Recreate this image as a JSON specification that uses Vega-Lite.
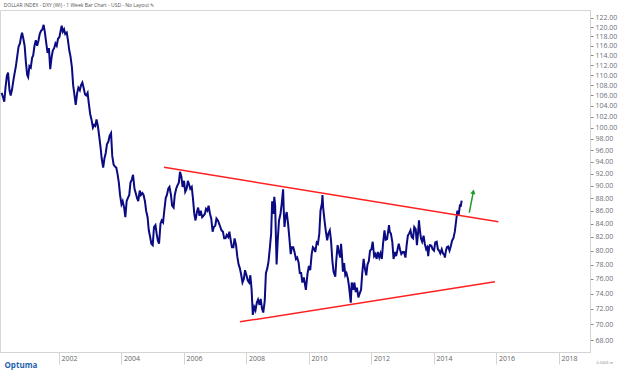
{
  "$schema": "https://vega.github.io/schema/vega-lite/v6.json",
  "autosize": {"type": "none"},
  "padding": {"left": 0, "top": 10, "right": 34, "bottom": 20},
  "width": 590,
  "height": 342,
  "background": "white",
  "title": {"text": "DOLLAR INDEX - DXY (WI) - 1 Week Bar Chart - USD - No Layout  ✎", "anchor": "start", "fontSize": 5, "color": "#555555", "font": "Open Sans", "fontWeight": "normal", "offset": 2, "dx": 6},
  "config": {"view": {"stroke": "#d6d6d6", "strokeWidth": 1}},
  "datasets": {
    "dxy": [
      {"date":"2000-03-01","v":106.5},{"date":"2000-03-15","v":105.8},{"date":"2000-04-01","v":104.8},{"date":"2000-04-15","v":107.5},
      {"date":"2000-05-01","v":109.8},{"date":"2000-05-15","v":110.5},{"date":"2000-06-01","v":107.0},{"date":"2000-06-15","v":106.0},
      {"date":"2000-07-01","v":107.2},{"date":"2000-07-15","v":108.8},{"date":"2000-08-01","v":110.5},{"date":"2000-08-15","v":111.8},
      {"date":"2000-09-01","v":114.0},{"date":"2000-09-15","v":115.8},{"date":"2000-10-01","v":116.5},{"date":"2000-10-15","v":118.0},
      {"date":"2000-10-26","v":118.8},{"date":"2000-11-10","v":117.5},{"date":"2000-11-25","v":116.0},{"date":"2000-12-10","v":112.5},
      {"date":"2000-12-25","v":110.0},
      {"date":"2001-01-05","v":109.6},{"date":"2001-01-20","v":111.8},{"date":"2001-02-05","v":111.5},{"date":"2001-02-20","v":113.5},
      {"date":"2001-03-05","v":114.0},{"date":"2001-03-20","v":116.0},{"date":"2001-04-05","v":117.2},{"date":"2001-04-20","v":116.0},
      {"date":"2001-05-05","v":117.0},{"date":"2001-05-20","v":118.5},{"date":"2001-06-05","v":119.2},{"date":"2001-06-20","v":119.5},
      {"date":"2001-07-05","v":120.5},{"date":"2001-07-20","v":118.8},{"date":"2001-08-05","v":116.5},{"date":"2001-08-20","v":114.5},
      {"date":"2001-09-05","v":115.5},{"date":"2001-09-20","v":111.2},{"date":"2001-10-05","v":113.5},{"date":"2001-10-20","v":115.0},
      {"date":"2001-11-05","v":115.5},{"date":"2001-11-20","v":116.5},{"date":"2001-12-05","v":116.0},{"date":"2001-12-20","v":117.5},
      {"date":"2002-01-05","v":117.8},{"date":"2002-01-20","v":119.2},{"date":"2002-02-01","v":120.3},{"date":"2002-02-15","v":119.0},
      {"date":"2002-03-01","v":119.5},{"date":"2002-03-15","v":118.5},{"date":"2002-04-01","v":118.8},{"date":"2002-04-15","v":117.2},
      {"date":"2002-05-01","v":115.0},{"date":"2002-05-15","v":113.8},{"date":"2002-06-01","v":111.5},{"date":"2002-06-15","v":108.0},
      {"date":"2002-07-01","v":106.0},{"date":"2002-07-15","v":104.2},{"date":"2002-08-01","v":106.5},{"date":"2002-08-15","v":107.5},
      {"date":"2002-09-01","v":107.0},{"date":"2002-09-15","v":108.0},{"date":"2002-10-01","v":108.5},{"date":"2002-10-15","v":107.5},
      {"date":"2002-11-01","v":106.2},{"date":"2002-11-15","v":106.0},{"date":"2002-12-01","v":106.5},{"date":"2002-12-15","v":104.5},
      {"date":"2002-12-31","v":102.5},
      {"date":"2003-01-15","v":101.5},{"date":"2003-02-01","v":100.0},{"date":"2003-02-15","v":100.5},{"date":"2003-03-01","v":100.3},
      {"date":"2003-03-15","v":101.5},{"date":"2003-04-01","v":100.2},{"date":"2003-04-15","v":98.5},{"date":"2003-05-01","v":96.5},
      {"date":"2003-05-15","v":94.5},{"date":"2003-06-01","v":93.0},{"date":"2003-06-15","v":94.5},{"date":"2003-07-01","v":95.5},
      {"date":"2003-07-15","v":97.0},{"date":"2003-08-01","v":97.5},{"date":"2003-08-15","v":98.5},{"date":"2003-09-01","v":99.0},
      {"date":"2003-09-15","v":95.0},{"date":"2003-10-01","v":93.5},{"date":"2003-10-15","v":93.2},{"date":"2003-11-01","v":93.0},
      {"date":"2003-11-15","v":92.0},{"date":"2003-12-01","v":90.5},{"date":"2003-12-15","v":88.5},
      {"date":"2004-01-01","v":87.0},{"date":"2004-01-15","v":87.5},{"date":"2004-02-01","v":86.5},{"date":"2004-02-15","v":85.0},
      {"date":"2004-03-01","v":87.5},{"date":"2004-03-15","v":88.0},{"date":"2004-04-01","v":88.5},{"date":"2004-04-15","v":90.5},
      {"date":"2004-05-01","v":91.0},{"date":"2004-05-15","v":91.8},{"date":"2004-06-01","v":89.5},{"date":"2004-06-15","v":88.8},
      {"date":"2004-07-01","v":88.0},{"date":"2004-07-15","v":87.5},{"date":"2004-08-01","v":89.2},{"date":"2004-08-15","v":88.5},
      {"date":"2004-09-01","v":88.8},{"date":"2004-09-15","v":88.5},{"date":"2004-10-01","v":87.5},{"date":"2004-10-15","v":86.0},
      {"date":"2004-11-01","v":85.0},{"date":"2004-11-15","v":83.0},{"date":"2004-12-01","v":82.0},{"date":"2004-12-15","v":81.0},
      {"date":"2004-12-31","v":80.8},
      {"date":"2005-01-15","v":83.5},{"date":"2005-02-01","v":83.8},{"date":"2005-02-15","v":82.5},{"date":"2005-03-01","v":81.5},
      {"date":"2005-03-15","v":81.0},{"date":"2005-04-01","v":84.0},{"date":"2005-04-15","v":84.5},{"date":"2005-05-01","v":84.2},
      {"date":"2005-05-15","v":86.0},{"date":"2005-06-01","v":88.0},{"date":"2005-06-15","v":88.5},{"date":"2005-07-01","v":89.5},
      {"date":"2005-07-15","v":89.8},{"date":"2005-08-01","v":88.5},{"date":"2005-08-15","v":86.8},{"date":"2005-09-01","v":86.5},
      {"date":"2005-09-15","v":88.5},{"date":"2005-10-01","v":89.5},{"date":"2005-10-15","v":90.0},{"date":"2005-11-01","v":90.5},
      {"date":"2005-11-15","v":92.3},{"date":"2005-12-01","v":91.5},{"date":"2005-12-15","v":89.8},
      {"date":"2006-01-01","v":90.8},{"date":"2006-01-15","v":89.0},{"date":"2006-02-01","v":89.5},{"date":"2006-02-15","v":90.8},
      {"date":"2006-03-01","v":90.2},{"date":"2006-03-15","v":89.5},{"date":"2006-04-01","v":89.8},{"date":"2006-04-15","v":88.0},
      {"date":"2006-05-01","v":85.5},{"date":"2006-05-15","v":84.5},{"date":"2006-06-01","v":85.8},{"date":"2006-06-15","v":86.5},
      {"date":"2006-07-01","v":85.2},{"date":"2006-07-15","v":86.0},{"date":"2006-08-01","v":85.0},{"date":"2006-08-15","v":85.2},
      {"date":"2006-09-01","v":85.5},{"date":"2006-09-15","v":86.3},{"date":"2006-10-01","v":86.0},{"date":"2006-10-15","v":86.8},
      {"date":"2006-11-01","v":85.5},{"date":"2006-11-15","v":84.8},{"date":"2006-12-01","v":82.8},{"date":"2006-12-15","v":83.5},
      {"date":"2007-01-01","v":83.7},{"date":"2007-01-15","v":84.8},{"date":"2007-02-01","v":84.5},{"date":"2007-02-15","v":84.0},
      {"date":"2007-03-01","v":83.5},{"date":"2007-03-15","v":83.0},{"date":"2007-04-01","v":82.8},{"date":"2007-04-15","v":81.8},
      {"date":"2007-05-01","v":81.8},{"date":"2007-05-15","v":82.3},{"date":"2007-06-01","v":82.0},{"date":"2007-06-15","v":82.8},
      {"date":"2007-07-01","v":81.5},{"date":"2007-07-15","v":80.5},{"date":"2007-08-01","v":80.5},{"date":"2007-08-15","v":81.8},
      {"date":"2007-09-01","v":80.8},{"date":"2007-09-15","v":79.2},{"date":"2007-10-01","v":78.0},{"date":"2007-10-15","v":77.5},
      {"date":"2007-11-01","v":76.5},{"date":"2007-11-15","v":75.5},{"date":"2007-12-01","v":76.0},{"date":"2007-12-15","v":77.2},
      {"date":"2008-01-01","v":76.5},{"date":"2008-01-15","v":75.8},{"date":"2008-02-01","v":75.5},{"date":"2008-02-15","v":76.5},
      {"date":"2008-03-01","v":74.5},{"date":"2008-03-15","v":71.2},{"date":"2008-04-01","v":72.2},{"date":"2008-04-15","v":71.8},
      {"date":"2008-05-01","v":72.8},{"date":"2008-05-15","v":73.2},{"date":"2008-06-01","v":72.5},{"date":"2008-06-15","v":73.3},
      {"date":"2008-07-01","v":72.0},{"date":"2008-07-15","v":71.5},{"date":"2008-08-01","v":73.0},{"date":"2008-08-15","v":76.8},
      {"date":"2008-09-01","v":77.5},{"date":"2008-09-15","v":78.5},{"date":"2008-10-01","v":80.5},{"date":"2008-10-15","v":82.5},
      {"date":"2008-10-27","v":87.5},{"date":"2008-11-10","v":85.5},{"date":"2008-11-21","v":88.2},{"date":"2008-12-01","v":86.8},
      {"date":"2008-12-18","v":78.0},{"date":"2008-12-31","v":81.5},
      {"date":"2009-01-15","v":84.5},{"date":"2009-02-01","v":85.5},{"date":"2009-02-15","v":87.0},{"date":"2009-03-04","v":89.4},
      {"date":"2009-03-12","v":86.0},{"date":"2009-03-20","v":83.5},{"date":"2009-04-01","v":85.0},{"date":"2009-04-15","v":85.8},
      {"date":"2009-05-01","v":84.0},{"date":"2009-05-15","v":82.0},{"date":"2009-06-01","v":79.5},{"date":"2009-06-15","v":80.5},
      {"date":"2009-07-01","v":80.5},{"date":"2009-07-15","v":79.8},{"date":"2009-08-01","v":78.8},{"date":"2009-08-15","v":79.0},
      {"date":"2009-09-01","v":78.3},{"date":"2009-09-15","v":76.8},{"date":"2009-10-01","v":76.8},{"date":"2009-10-15","v":75.5},
      {"date":"2009-11-01","v":76.2},{"date":"2009-11-25","v":74.5},{"date":"2009-12-01","v":75.2},{"date":"2009-12-15","v":76.8},
      {"date":"2009-12-31","v":77.8},
      {"date":"2010-01-15","v":77.2},{"date":"2010-02-01","v":79.5},{"date":"2010-02-15","v":80.5},{"date":"2010-03-01","v":80.3},
      {"date":"2010-03-15","v":79.8},{"date":"2010-04-01","v":81.2},{"date":"2010-04-15","v":81.0},{"date":"2010-05-01","v":82.5},
      {"date":"2010-05-15","v":86.0},{"date":"2010-06-01","v":87.2},{"date":"2010-06-07","v":88.5},{"date":"2010-06-15","v":86.5},
      {"date":"2010-07-01","v":84.5},{"date":"2010-07-15","v":83.0},{"date":"2010-08-01","v":81.5},{"date":"2010-08-15","v":82.5},
      {"date":"2010-09-01","v":83.0},{"date":"2010-09-15","v":81.5},{"date":"2010-10-01","v":78.5},{"date":"2010-10-15","v":77.0},
      {"date":"2010-11-04","v":76.3},{"date":"2010-11-15","v":78.5},{"date":"2010-12-01","v":80.8},{"date":"2010-12-15","v":79.8},
      {"date":"2011-01-01","v":79.0},{"date":"2011-01-10","v":81.0},{"date":"2011-01-20","v":79.5},{"date":"2011-02-01","v":77.0},
      {"date":"2011-02-15","v":78.2},{"date":"2011-03-01","v":76.5},{"date":"2011-03-15","v":76.8},{"date":"2011-04-01","v":76.0},
      {"date":"2011-04-15","v":74.8},{"date":"2011-05-04","v":72.8},{"date":"2011-05-15","v":75.5},{"date":"2011-06-01","v":74.5},
      {"date":"2011-06-15","v":75.5},{"date":"2011-07-01","v":74.2},{"date":"2011-07-15","v":74.8},{"date":"2011-08-01","v":73.5},
      {"date":"2011-08-15","v":74.0},{"date":"2011-09-01","v":74.5},{"date":"2011-09-15","v":76.8},{"date":"2011-10-01","v":78.8},
      {"date":"2011-10-15","v":77.5},{"date":"2011-11-01","v":76.5},{"date":"2011-11-15","v":78.0},{"date":"2011-12-01","v":78.5},
      {"date":"2011-12-15","v":80.0},
      {"date":"2012-01-01","v":80.2},{"date":"2012-01-15","v":81.3},{"date":"2012-02-01","v":79.2},{"date":"2012-02-15","v":79.5},
      {"date":"2012-03-01","v":78.8},{"date":"2012-03-15","v":79.8},{"date":"2012-04-01","v":79.0},{"date":"2012-04-15","v":79.6},
      {"date":"2012-05-01","v":78.8},{"date":"2012-05-15","v":81.0},{"date":"2012-06-01","v":83.0},{"date":"2012-06-15","v":81.6},
      {"date":"2012-07-01","v":81.7},{"date":"2012-07-24","v":83.8},{"date":"2012-08-01","v":82.8},{"date":"2012-08-15","v":82.5},
      {"date":"2012-09-01","v":81.2},{"date":"2012-09-15","v":78.8},{"date":"2012-10-01","v":79.8},{"date":"2012-10-15","v":79.2},
      {"date":"2012-11-01","v":80.2},{"date":"2012-11-15","v":81.0},{"date":"2012-12-01","v":80.1},{"date":"2012-12-15","v":79.5},
      {"date":"2013-01-01","v":79.8},{"date":"2013-01-15","v":79.8},{"date":"2013-02-01","v":79.0},{"date":"2013-02-15","v":80.8},
      {"date":"2013-03-01","v":82.2},{"date":"2013-03-15","v":82.5},{"date":"2013-04-01","v":83.0},{"date":"2013-04-15","v":82.0},
      {"date":"2013-05-01","v":81.8},{"date":"2013-05-15","v":83.5},{"date":"2013-06-01","v":83.2},{"date":"2013-06-15","v":80.8},
      {"date":"2013-07-01","v":83.0},{"date":"2013-07-09","v":84.5},{"date":"2013-07-18","v":83.2},{"date":"2013-08-01","v":81.8},
      {"date":"2013-08-15","v":81.3},{"date":"2013-09-01","v":82.2},{"date":"2013-09-15","v":81.0},{"date":"2013-10-01","v":80.2},
      {"date":"2013-10-15","v":80.5},{"date":"2013-10-25","v":79.2},{"date":"2013-11-05","v":80.5},{"date":"2013-11-15","v":80.8},
      {"date":"2013-12-01","v":80.7},{"date":"2013-12-15","v":80.2},
      {"date":"2014-01-01","v":80.0},{"date":"2014-01-15","v":81.2},{"date":"2014-02-01","v":81.3},{"date":"2014-02-15","v":80.2},
      {"date":"2014-03-01","v":80.0},{"date":"2014-03-15","v":79.6},{"date":"2014-04-01","v":80.2},{"date":"2014-04-15","v":79.6},
      {"date":"2014-05-01","v":79.4},{"date":"2014-05-08","v":79.0},{"date":"2014-05-20","v":80.0},{"date":"2014-06-01","v":80.5},
      {"date":"2014-06-15","v":80.6},{"date":"2014-07-01","v":80.0},{"date":"2014-07-15","v":80.6},{"date":"2014-08-01","v":81.5},
      {"date":"2014-08-15","v":81.8},{"date":"2014-09-01","v":82.8},{"date":"2014-09-15","v":84.3},{"date":"2014-10-01","v":86.0},
      {"date":"2014-10-15","v":85.3},{"date":"2014-11-01","v":87.0},{"date":"2014-11-08","v":86.6},{"date":"2014-11-20","v":87.6}
    ],
    "trend": [
      {"line":"upper","date":"2005-05-12","v":93.05},{"line":"upper","date":"2016-01-23","v":84.3},
      {"line":"lower","date":"2007-10-16","v":70.3},{"line":"lower","date":"2015-12-14","v":75.6}
    ],
    "arrow": [
      {"date":"2015-02-17","v":85.7},{"date":"2015-04-05","v":89.0}
    ],
    "arrowhead": [
      {"date":"2015-04-05","v":89.0}
    ]
  },
  "encoding": {
    "x": {
      "field": "date", "type": "temporal",
      "scale": {"domain": [{"year": 2000, "month": 2, "date": 11}, {"year": 2018, "month": 12, "date": 29}]},
      "axis": {
        "title": "Optuma", "titleAnchor": "start", "titleAlign": "left", "titleBaseline": "middle", "titleX": 4, "titleY": 13, "titleFontSize": 8, "titleColor": "#1d5fae", "titleFont": "Open Sans", "titleFontWeight": "bold",
        "values": [{"year": 2002, "month": 1, "date": 1}, {"year": 2004, "month": 1, "date": 1}, {"year": 2006, "month": 1, "date": 1}, {"year": 2008, "month": 1, "date": 1}, {"year": 2010, "month": 1, "date": 1}, {"year": 2012, "month": 1, "date": 1}, {"year": 2014, "month": 1, "date": 1}, {"year": 2016, "month": 1, "date": 1}, {"year": 2018, "month": 1, "date": 1}],
        "format": "%Y", "grid": false, "tickSize": 12, "tickColor": "#d4d4d4", "domainColor": "#d4d4d4",
        "labelAlign": "left", "labelBaseline": "middle", "labelPadding": -6, "labelOffset": 2,
        "labelFontSize": 7, "labelFont": "Open Sans", "labelColor": "#666666", "labelOverlap": false, "labelFlush": false, "labelBound": false
      }
    },
    "y": {
      "field": "v", "type": "quantitative",
      "scale": {"type": "log", "domain": [66.56, 123.78], "nice": false, "zero": false},
      "axis": {
        "orient": "right", "title": "0.1001 in", "titleAngle": 0, "titleX": 6, "titleY": 354, "titleFontSize": 4, "titleColor": "#888888", "titleFontWeight": "normal", "titleAlign": "left",
        "values": [68,70,72,74,76,78,80,82,84,86,88,90,92,94,96,98,100,102,104,106,108,110,112,114,116,118,120,122],
        "format": ".2f", "grid": false, "tickSize": 3, "tickColor": "#888888", "domainColor": "#d4d4d4",
        "labelPadding": 2, "labelFontSize": 7, "labelFont": "Open Sans", "labelColor": "#6e6e7a", "labelOverlap": false, "labelBound": false
      }
    }
  },
  "layer": [
    {"data": {"name": "dxy"}, "mark": {"type": "line", "color": "#0a0a82", "strokeWidth": 2}},
    {"data": {"name": "trend"}, "mark": {"type": "line", "color": "#ff2020", "strokeWidth": 1.5}, "encoding": {"detail": {"field": "line"}}},
    {"data": {"name": "arrow"}, "mark": {"type": "line", "color": "#1e9a2a", "strokeWidth": 1.5}},
    {"data": {"name": "arrowhead"}, "mark": {"type": "point", "shape": "triangle-up", "angle": 11, "size": 28, "filled": true, "color": "#1e9a2a", "opacity": 1}}
  ]
}
